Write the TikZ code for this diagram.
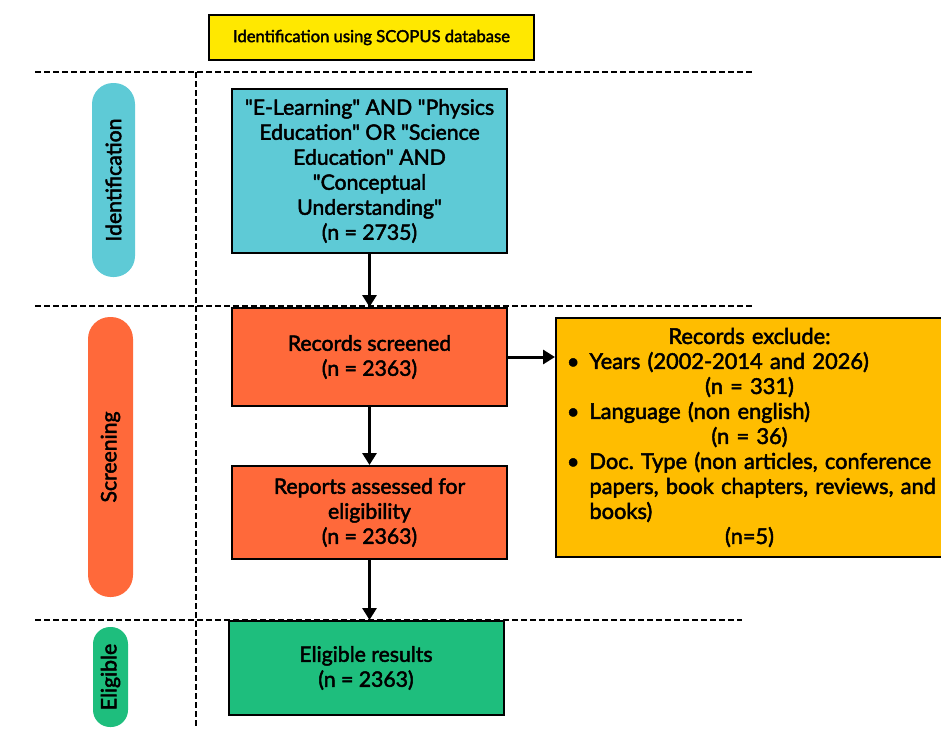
\documentclass[tikz,border=0pt]{standalone}
\usepackage{fontspec}
\setmainfont{Lato}
\newfontfamily\flowfont{Lato}[FakeBold=2.2]
\usepackage{tikz}
\usetikzlibrary{positioning, arrows.meta, calc}
\definecolor{titleyellow}{RGB}{255,232,0}
\definecolor{idcyan}{RGB}{94,202,214}
\definecolor{screenred}{RGB}{255,105,58}
\definecolor{eligreen}{RGB}{30,190,125}
\definecolor{exclorange}{RGB}{255,189,0}
\tikzset{
  box/.style={
    draw=black, line width=1pt, align=center, inner sep=2pt,
    minimum width=137.5pt, font=\flowfont\fontsize{10.6}{12.5}\selectfont
  },
  titlebox/.style={box, fill=titleyellow, minimum width=162.5pt, minimum height=22.5pt,
    font=\flowfont\fontsize{8.3}{9}\selectfont},
  idbox/.style={box, fill=idcyan},
  screenbox/.style={box, fill=screenred},
  eligbox/.style={box, fill=eligreen},
  exclbox/.style={box, fill=exclorange, align=left, text width=184pt,
    inner xsep=4.75pt, minimum height=119.5pt,
    font=\flowfont\fontsize{10.9}{12.5}\selectfont},
  phase/.style={draw=none, rotate=90, rounded corners=8.5pt, inner sep=0pt,
    font=\flowfont\fontsize{10.6}{11}\selectfont},
  divider/.style={dash pattern=on 3pt off 1.5pt, line width=1pt},
  every edge/.style={draw, line width=1.5pt, -{Triangle[width=7pt,length=6pt]}},
}

\begin{document}
\begin{tikzpicture}[x=0.5pt, y=-0.5pt]
  \useasboundingbox (0,0) rectangle (941,729);

  % phase separators
  \draw[divider] (35,72) -- (754,72);
  \draw[divider] (35,306) -- (754,306);
  \draw[divider] (35,620) -- (742,620);
  \draw[divider] (196,72) -- (196,729);

  % phase labels
  \node[phase, fill=idcyan, rounded corners=10.5pt, minimum width=97pt, minimum height=21.5pt] (idphase) at (113.5,180) {Identification};
  \node[phase, fill=screenred, rounded corners=11pt, minimum width=140pt, minimum height=22.5pt] (scphase) at (110.5,457) {Screening};
  \node[phase, fill=eligreen, minimum width=50pt, minimum height=17.5pt] (elphase) at (110.5,677) {Eligible};

  % flow
  \node[titlebox] (title) at (371.5,37.5) {Identification using SCOPUS database};
  \node[idbox, minimum height=82pt] (search) at (369.5,171)
    {"E-Learning" AND "Physics\\Education" OR "Science\\Education" AND\\"Conceptual\\Understanding"\\(n = 2735)};
  \node[screenbox, minimum height=49pt, below=26.5pt of search] (screened) {Records screened\\(n = 2363)};
  \node[screenbox, minimum height=46.5pt, below=29pt of screened] (assessed) {Reports assessed for\\eligibility\\(n = 2363)};
  \node[eligbox, minimum height=47pt, below=30pt of assessed, xshift=-1.75pt] (results) {Eligible results\\(n = 2363)};
  \node[exclbox, below right=5pt and 23.5pt of screened.north east] (exclude) {%
    {\centering Records exclude:\par}
    {\raggedright\leftskip=12pt \noindent\llap{\textbullet\hspace{5pt}}Years (2002-2014 and 2026)\par}
    {\centering (n = 331)\par}
    {\raggedright\leftskip=12pt \noindent\llap{\textbullet\hspace{5pt}}Language (non english)\par}
    {\centering (n = 36)\par}
    {\raggedright\leftskip=12pt \noindent\llap{\textbullet\hspace{5pt}}\mbox{Doc.\ Type (non articles, conference}\newline
      \mbox{papers, book chapters, reviews, and}\newline books)\par}
    {\centering (n=5)\par}};

  \path (search) edge (screened)
        (screened) edge (assessed)
        (assessed.south) edge (assessed.south |- results.north)
        (screened.east) edge (screened.east -| exclude.west);
\end{tikzpicture}
\end{document}
